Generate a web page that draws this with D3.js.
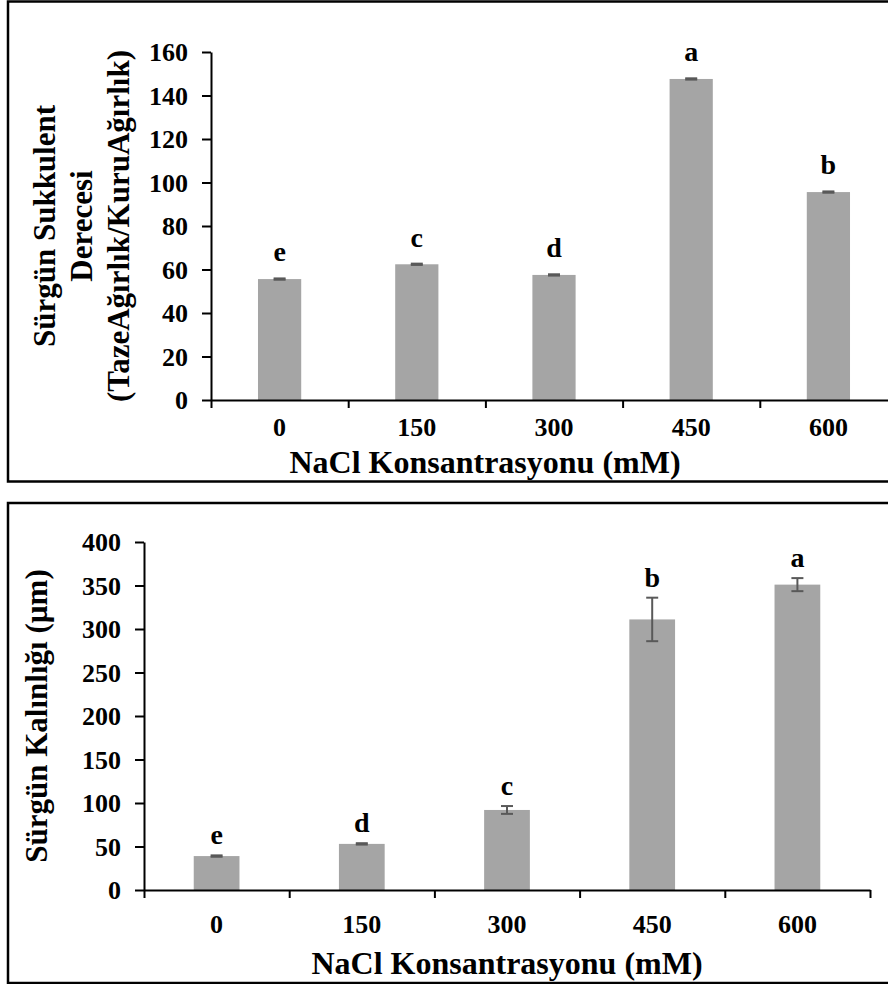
<!DOCTYPE html>
<html>
<head>
<meta charset="utf-8">
<script src="https://cdn.jsdelivr.net/npm/d3@7"></script>
<style>
  body { margin: 0; background: #fff; }
  svg { display: block; }
  text { font-family: "Liberation Serif", "Times New Roman", serif; font-weight: bold; fill: #000; }
</style>
</head>
<body>
<div id="chart"></div>
<script>
// NaCl concentrations (mM)
const categories = ["0", "150", "300", "450", "600"];

// chart 1: shoot succulence degree
const succValues = [55.6, 62.4, 57.5, 147.6, 95.6];
const succErrors = [0.3, 0.3, 0.3, 0.3, 0.3];
const succLetters = ["e", "c", "d", "a", "b"];
const succTicks = [0, 20, 40, 60, 80, 100, 120, 140, 160];

// chart 2: shoot thickness (µm)
const thickValues = [39, 53, 92, 311, 351];
const thickErrors = [0.8, 0.8, 4.5, 25, 7.5];
const thickLetters = ["e", "d", "c", "b", "a"];
const thickTicks = [0, 50, 100, 150, 200, 250, 300, 350, 400];

const W = 888, H = 984;
const svg = d3.select("#chart").append("svg")
    .attr("width", W)
    .attr("height", H);

function drawPanel(cfg) {
    const g = svg.append("g");

    // panel frame
    g.append("rect")
        .attr("x", 8).attr("y", cfg.frameTop)
        .attr("width", 920).attr("height", cfg.frameHeight)
        .attr("fill", "none")
        .attr("stroke", "#000")
        .attr("stroke-width", 2.5);

    const x = d3.scaleBand()
        .domain(categories)
        .range([cfg.left, cfg.right])
        .padding(0);

    const y = d3.scaleLinear()
        .domain([0, cfg.max])
        .range([cfg.bottom, cfg.top]);

    const barW = x.bandwidth() * 0.315;

    // bars
    g.selectAll(".bar")
        .data(cfg.values)
        .enter()
        .append("rect")
        .attr("x", (d, i) => x(categories[i]) + (x.bandwidth() - barW) / 2)
        .attr("y", d => y(d))
        .attr("width", barW)
        .attr("height", d => y(0) - y(d))
        .attr("fill", "#a5a5a5");

    // error bars
    const eb = g.selectAll(".err")
        .data(cfg.values)
        .enter()
        .append("g")
        .attr("stroke", "#595959")
        .attr("stroke-width", 2);
    const cx = i => x(categories[i]) + x.bandwidth() / 2;
    eb.append("line")
        .attr("x1", (d, i) => cx(i)).attr("x2", (d, i) => cx(i))
        .attr("y1", (d, i) => y(d - cfg.errors[i]))
        .attr("y2", (d, i) => y(d + cfg.errors[i]));
    eb.append("line")
        .attr("x1", (d, i) => cx(i) - 6).attr("x2", (d, i) => cx(i) + 6)
        .attr("y1", (d, i) => y(d + cfg.errors[i]))
        .attr("y2", (d, i) => y(d + cfg.errors[i]));
    eb.append("line")
        .attr("x1", (d, i) => cx(i) - 6).attr("x2", (d, i) => cx(i) + 6)
        .attr("y1", (d, i) => y(d - cfg.errors[i]))
        .attr("y2", (d, i) => y(d - cfg.errors[i]));

    // significance letters
    g.selectAll(".letter")
        .data(cfg.letters)
        .enter()
        .append("text")
        .attr("x", (d, i) => cx(i))
        .attr("y", (d, i) => y(cfg.values[i] + cfg.errors[i]) - cfg.letterGap)
        .attr("text-anchor", "middle")
        .style("font-size", "28px")
        .text(d => d);

    // y axis
    const yAxis = g.append("g")
        .attr("transform", `translate(${cfg.left},0)`)
        .call(d3.axisLeft(y).tickValues(cfg.ticks).tickSize(9).tickSizeOuter(0).tickPadding(14));
    yAxis.selectAll("path, line").attr("stroke", "#000").attr("stroke-width", 2);
    yAxis.selectAll("text").style("font-size", "26px").attr("dy", "0.34em");

    // x axis: tick marks at category boundaries
    const xb = d3.scaleLinear().domain([0, categories.length]).range([cfg.left, cfg.right]);
    const xAxis = g.append("g")
        .attr("transform", `translate(0,${cfg.bottom})`)
        .call(d3.axisBottom(xb).ticks(categories.length).tickSize(8).tickSizeOuter(0).tickFormat(""));
    xAxis.selectAll("path, line").attr("stroke", "#000").attr("stroke-width", 2);

    // category labels
    const xLab = g.append("g")
        .attr("transform", `translate(0,${cfg.bottom})`)
        .call(d3.axisBottom(x).tickSize(0).tickPadding(0));
    xLab.select(".domain").remove();
    xLab.selectAll("text")
        .style("font-size", "26px")
        .attr("dy", null)
        .attr("y", cfg.tickBaseline - cfg.bottom);

    // x title
    g.append("text")
        .attr("x", cfg.xTitleCenter)
        .attr("y", cfg.xTitleBaseline)
        .attr("text-anchor", "middle")
        .style("font-size", "32px")
        .text("NaCl Konsantrasyonu (mM)");

    // y title
    const yc = (cfg.top + cfg.bottom) / 2;
    cfg.yTitle.forEach((line, i) => {
        g.append("text")
            .attr("transform", `translate(${cfg.yTitleX[i]},${yc}) rotate(-90)`)
            .attr("text-anchor", "middle")
            .style("font-size", "31px")
            .text(line);
    });
}

drawPanel({
    frameTop: 1.5, frameHeight: 480,
    left: 211, right: 897, top: 52, bottom: 400, max: 160,
    values: succValues, errors: succErrors, letters: succLetters, ticks: succTicks,
    letterGap: 17, tickBaseline: 436, xTitleBaseline: 473, xTitleCenter: 485,
    yTitle: ["Sürgün Sukkulent", "Derecesi", "(TazeAğırlık/KuruAğırlık)"],
    yTitleX: [55, 92, 129]
});

drawPanel({
    frameTop: 503, frameHeight: 480,
    left: 144, right: 870, top: 542, bottom: 890, max: 400,
    values: thickValues, errors: thickErrors, letters: thickLetters, ticks: thickTicks,
    letterGap: 11, tickBaseline: 933, xTitleBaseline: 974, xTitleCenter: 507,
    yTitle: ["Sürgün Kalınlığı (µm)"],
    yTitleX: [47]
});
</script>
</body>
</html>
